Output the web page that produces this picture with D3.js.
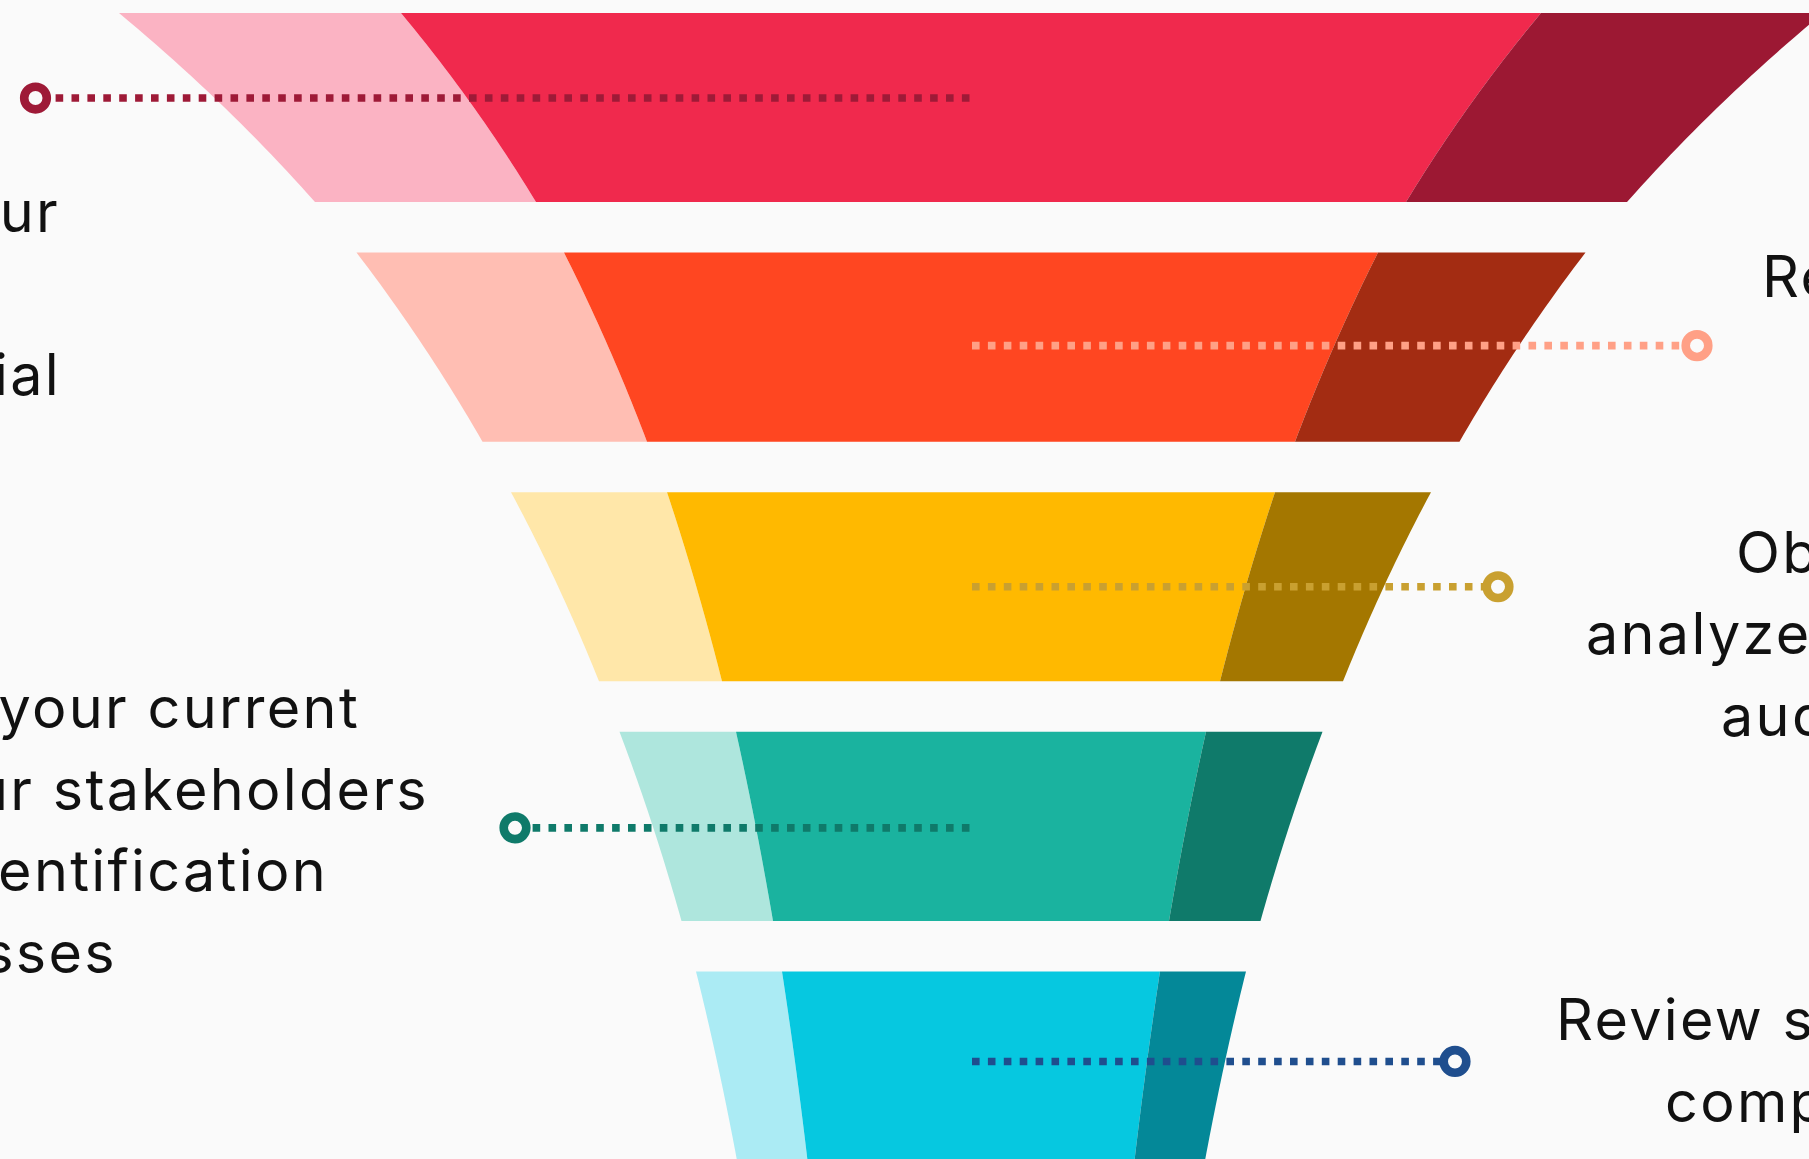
<!DOCTYPE html>
<html>
<head>
<meta charset="utf-8">
<script src="https://cdn.jsdelivr.net/npm/d3@7"></script>
<style>
  html, body { margin: 0; padding: 0; background: #fafafa; overflow: hidden; }
  svg { display: block; }
  .label { font-family: Inter, "DejaVu Sans", sans-serif; font-size: 57.5px; letter-spacing: 2.3px; fill: #111; }
</style>
</head>
<body>
<svg id="chart" width="1809" height="1159"></svg>
<script>
// funnel stages, top to bottom
var stages = ["stage1", "stage2", "stage3", "stage4", "stage5"];

// full width of the funnel at the top / bottom of each stage
var outerTop    = [1704, 1229, 920, 703, 550];
var outerBottom = [1312,  977, 744, 579, 468];
// width of the bright middle part of each stage
var innerTop    = [1140,  814, 608, 470, 378];
var innerBottom = [ 870,  648, 498, 396, 327];

// callout texts (partly outside the frame)
var labelText = [
  ["Define your", "potential"],
  ["Research"],
  ["Obtain and", "analyze data from", "audience"],
  ["Assess your current", "with your stakeholders", "for identification", "of weaknesses"],
  ["Review strategies", "competitors"]
];
var calloutSide = ["left", "right", "right", "left", "right"];

// styles
var lightColor = ["#fbb3c3", "#ffbeb3", "#ffe7a9", "#aee6dd", "#abebf4"];
var mainColor  = ["#f0294d", "#ff4621", "#ffb900", "#1ab39f", "#06c8e0"];
var darkColor  = ["#9c1833", "#a32c12", "#a47700", "#0f7a6a", "#048898"];
var dotColor   = ["#9e1a37", "#ffa086", "#c9a030", "#0f7a6a", "#1f4e8e"];

// layout of callouts
var calloutX  = [35.5, 1697, 1498, 515, 1455];
var calloutDy = [-9.5, -1.5, 0, 1.5, -4.5];
var labelX    = [[60, 61], [1762], [1736, 1586, 1721], [360, 429, 328, 117], [1556, 1665]];
var labelRow  = [[0, 2], [0], [0, 1, 2], [0, 1, 2, 3], [0, 1]];
var labelBase = [231.7, 296.7, 572.7, 728, 1040];
var linePitch = 81.6;

var width = 1809, height = 1159;
var svg = d3.select("#chart");

var x = d3.scaleLinear().domain([-971, 838]).range([0, width]);
var y = d3.scaleBand().domain(stages).range([13, 1160.5]).paddingInner(0.211).paddingOuter(0);

var neck = 224; // funnel narrows towards this width, bends the edges
var steps = 24;

// half width along an edge, t from 0 (top) to 1 (bottom)
function edge(topW, botW, n){
  var a = topW / 2 - n / 2, b = botW / 2 - n / 2;
  return d3.range(steps + 1).map(function(i){
    var t = i / steps;
    return {t: t, hw: n / 2 + Math.pow(a, 1 - t) * Math.pow(b, t)};
  });
}

var line = d3.line().x(function(d){ return d[0]; }).y(function(d){ return d[1]; });

var bands = svg.append("g").attr("class", "bands");

stages.forEach(function(s, i){
  var y0 = y(s), h = y.bandwidth();
  var outer = edge(outerTop[i], outerBottom[i], neck);
  var inner = edge(innerTop[i], innerBottom[i], neck * innerTop[i] / outerTop[i]);

  function side(e, sign){
    return e.map(function(d){ return [x(sign * d.hw), y0 + d.t * h]; });
  }
  var oL = side(outer, -1), iL = side(inner, -1), iR = side(inner, 1), oR = side(outer, 1);

  var g = bands.append("g").attr("class", "band " + s);
  g.append("path").attr("d", line(oL.concat(iL.slice().reverse())) + "Z").attr("fill", lightColor[i]);
  g.append("path").attr("d", line(iL.concat(iR.slice().reverse())) + "Z").attr("fill", mainColor[i]);
  g.append("path").attr("d", line(iR.concat(oR.slice().reverse())) + "Z").attr("fill", darkColor[i]);
});

// dotted callouts
var callouts = svg.append("g").attr("class", "callouts");
stages.forEach(function(s, i){
  var cy = y(s) + y.bandwidth() / 2 + calloutDy[i];
  var startX = calloutSide[i] == "left" ? x(0) - 1.5 : x(0) + 1;
  callouts.append("line")
    .attr("x1", startX).attr("y1", cy)
    .attr("x2", calloutX[i]).attr("y2", cy)
    .attr("stroke", dotColor[i])
    .attr("stroke-width", 7.6)
    .attr("stroke-dasharray", "7.6 8.3");
  callouts.append("circle")
    .attr("cx", calloutX[i]).attr("cy", cy)
    .attr("r", 11.3)
    .attr("fill", "#fafafa")
    .attr("stroke", dotColor[i])
    .attr("stroke-width", 8.6);
});

// texts
var labels = svg.append("g").attr("class", "labels");
labelText.forEach(function(lines, i){
  lines.forEach(function(txt, j){
    labels.append("text")
      .attr("class", "label")
      .attr("x", labelX[i][j])
      .attr("y", labelBase[i] + labelRow[i][j] * linePitch)
      .attr("text-anchor", calloutSide[i] == "left" ? "end" : "start")
      .text(txt);
  });
});
</script>
</body>
</html>
